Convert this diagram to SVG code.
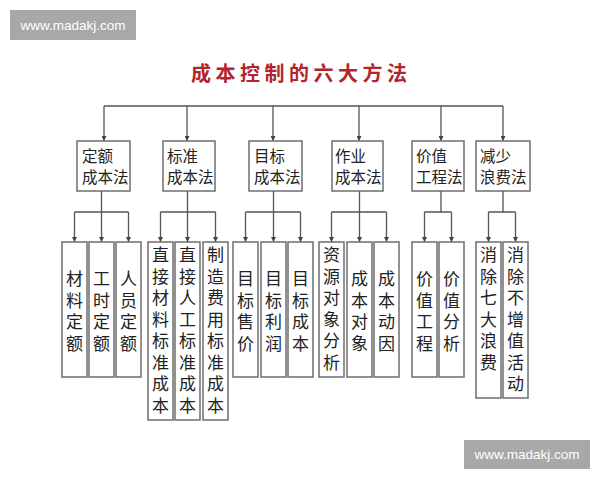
<svg xmlns="http://www.w3.org/2000/svg" width="600" height="480" viewBox="0 0 600 480">
<style>
.bg{fill:#ffffff}
.wm{fill:#a8a8a8}
.wmt{fill:#ffffff;font-family:"Liberation Sans",Arial,sans-serif;font-size:13.5px;text-anchor:middle}
.title{fill:#b3242c;font-family:"Noto Sans CJK SC",sans-serif;font-size:20px;font-weight:bold;letter-spacing:4.5px}
.box{fill:#ffffff;stroke:#6e6e6e;stroke-width:1.5}
.line{fill:none;stroke:#555555;stroke-width:1.3}
.t1{fill:#222222;font-family:"Noto Sans CJK SC",sans-serif;font-size:15.5px}
.t2{fill:#222222;font-family:"Noto Sans CJK SC",sans-serif;font-size:17px;writing-mode:vertical-rl;text-orientation:upright;letter-spacing:4.5px}
</style>
<defs>
<marker id="arr" markerWidth="5" markerHeight="5" refX="5" refY="2.5" orient="auto" markerUnits="userSpaceOnUse">
<path d="M0,0 L5,2.5 L0,5 z" fill="#444444"/>
</marker>
</defs>
<rect class="bg" x="0" y="0" width="600" height="480"/>
<g id="watermark1"><rect class="wm" x="10" y="10" width="126" height="30"/><text class="wmt" x="73" y="29.5">www.madakj.com</text></g>
<g id="watermark2"><rect class="wm" x="464" y="440" width="126" height="29"/><text class="wmt" x="527" y="459">www.madakj.com</text></g>
<g id="title"><text class="title" x="191" y="81">成本控制的六大方法</text></g>

<g id="connectors">
<path class="line" d="M104,106 H503"/>
<path class="line" d="M104,106 V141" marker-end="url(#arr)"/>
<path class="line" d="M187,106 V141" marker-end="url(#arr)"/>
<path class="line" d="M273,106 V141" marker-end="url(#arr)"/>
<path class="line" d="M359,106 V141" marker-end="url(#arr)"/>
<path class="line" d="M441,106 V141" marker-end="url(#arr)"/>
<path class="line" d="M503,106 V141" marker-end="url(#arr)"/>
<path class="line" d="M101.5,191 V212 M74.5,212 H128.5"/>
<path class="line" d="M74.5,212 V242" marker-end="url(#arr)"/>
<path class="line" d="M101.5,212 V242" marker-end="url(#arr)"/>
<path class="line" d="M128.5,212 V242" marker-end="url(#arr)"/>
<path class="line" d="M187.5,191 V212 M160.5,212 H215.5"/>
<path class="line" d="M160.5,212 V242" marker-end="url(#arr)"/>
<path class="line" d="M187.5,212 V242" marker-end="url(#arr)"/>
<path class="line" d="M215.5,212 V242" marker-end="url(#arr)"/>
<path class="line" d="M273.5,191 V212 M245.5,212 H300.5"/>
<path class="line" d="M245.5,212 V242" marker-end="url(#arr)"/>
<path class="line" d="M273.5,212 V242" marker-end="url(#arr)"/>
<path class="line" d="M300.5,212 V242" marker-end="url(#arr)"/>
<path class="line" d="M359.5,191 V212 M331.5,212 H386.5"/>
<path class="line" d="M331.5,212 V242" marker-end="url(#arr)"/>
<path class="line" d="M359.5,212 V242" marker-end="url(#arr)"/>
<path class="line" d="M386.5,212 V242" marker-end="url(#arr)"/>
<path class="line" d="M441,191 V212 M424.5,212 H451.5"/>
<path class="line" d="M424.5,212 V242" marker-end="url(#arr)"/>
<path class="line" d="M451.5,212 V242" marker-end="url(#arr)"/>
<path class="line" d="M503,191 V212 M488.5,212 H515.5"/>
<path class="line" d="M488.5,212 V242" marker-end="url(#arr)"/>
<path class="line" d="M515.5,212 V242" marker-end="url(#arr)"/>
</g>

<g id="m1"><rect class="box" x="77" y="141" width="53" height="50"/><text class="t1" x="82" y="162">定额</text><text class="t1" x="82" y="183">成本法</text></g>
<g id="m2"><rect class="box" x="163" y="141" width="52" height="50"/><text class="t1" x="167" y="162">标准</text><text class="t1" x="167" y="183">成本法</text></g>
<g id="m3"><rect class="box" x="249" y="141" width="53" height="50"/><text class="t1" x="254" y="162">目标</text><text class="t1" x="254" y="183">成本法</text></g>
<g id="m4"><rect class="box" x="332" y="141" width="51" height="50"/><text class="t1" x="335" y="162">作业</text><text class="t1" x="335" y="183">成本法</text></g>
<g id="m5"><rect class="box" x="412" y="141" width="52" height="50"/><text class="t1" x="416" y="162">价值</text><text class="t1" x="416" y="183">工程法</text></g>
<g id="m6"><rect class="box" x="476" y="141" width="54" height="50"/><text class="t1" x="480" y="162">减少</text><text class="t1" x="480" y="183">浪费法</text></g>

<g id="c1a"><rect class="box" x="62" y="242" width="25" height="135"/><text class="t2" x="74.5" y="270.5">材料定额</text></g>
<g id="c1b"><rect class="box" x="89" y="242" width="25" height="135"/><text class="t2" x="101.5" y="270.5">工时定额</text></g>
<g id="c1c"><rect class="box" x="116" y="242" width="25" height="135"/><text class="t2" x="128.5" y="270.5">人员定额</text></g>

<g id="c2a"><rect class="box" x="148" y="242" width="25" height="178"/><text class="t2" x="160.5" y="246.5">直接材料标准成本</text></g>
<g id="c2b"><rect class="box" x="175" y="242" width="25" height="178"/><text class="t2" x="187.5" y="246.5">直接人工标准成本</text></g>
<g id="c2c"><rect class="box" x="203" y="242" width="25" height="178"/><text class="t2" x="215.5" y="246.5">制造费用标准成本</text></g>

<g id="c3a"><rect class="box" x="233" y="242" width="25" height="135"/><text class="t2" x="245.5" y="270.5">目标售价</text></g>
<g id="c3b"><rect class="box" x="261" y="242" width="25" height="135"/><text class="t2" x="273.5" y="270.5">目标利润</text></g>
<g id="c3c"><rect class="box" x="288" y="242" width="25" height="135"/><text class="t2" x="300.5" y="270.5">目标成本</text></g>

<g id="c4a"><rect class="box" x="319" y="242" width="25" height="135"/><text class="t2" x="331.5" y="246.5">资源对象分析</text></g>
<g id="c4b"><rect class="box" x="347" y="242" width="25" height="135"/><text class="t2" x="359.5" y="270.5">成本对象</text></g>
<g id="c4c"><rect class="box" x="374" y="242" width="25" height="135"/><text class="t2" x="386.5" y="270.5">成本动因</text></g>

<g id="c5a"><rect class="box" x="412" y="242" width="25" height="135"/><text class="t2" x="424.5" y="270.5">价值工程</text></g>
<g id="c5b"><rect class="box" x="439" y="242" width="25" height="135"/><text class="t2" x="451.5" y="270.5">价值分析</text></g>

<g id="c6a"><rect class="box" x="476" y="242" width="25" height="156"/><text class="t2" x="488.5" y="246.5">消除七大浪费</text></g>
<g id="c6b"><rect class="box" x="503" y="242" width="25" height="156"/><text class="t2" x="515.5" y="246.5">消除不增值活动</text></g>
</svg>
